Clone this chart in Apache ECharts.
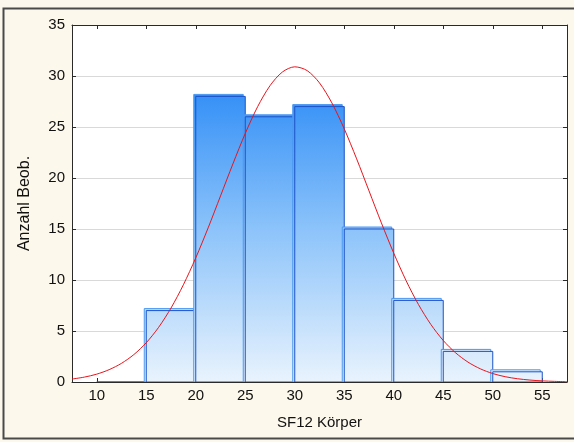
<!DOCTYPE html>
<html>
<head>
<meta charset="utf-8">
<script src="https://cdn.jsdelivr.net/npm/echarts@6/dist/echarts.min.js"></script>
<style>
  html, body { margin: 0; padding: 0; background: #fdf8ec; }
  #chart { width: 574px; height: 442px; }
</style>
</head>
<body>
<div id="chart"></div>
<script>
// Histogram bins: [lower edge, upper edge]
const binStarts = [10, 15, 20, 25, 30, 35, 40, 45, 50];
const binEnds   = [15, 20, 25, 30, 35, 40, 45, 50, 55];
// Number of observations per bin
const counts    = [0, 7, 28, 26, 27, 15, 8, 3, 1];

// Expected normal curve (x, expected count)
const curveX = [7.5, 8.75, 10, 11.25, 12.5, 13.75, 15, 16.25, 17.5, 18.75, 20, 21.25, 22.5, 23.75, 25, 26.25, 27.5, 28.75, 30,
                31.25, 32.5, 33.75, 35, 36.25, 37.5, 38.75, 40, 41.25, 42.5, 43.75, 45, 46.25, 47.5, 48.75, 50, 51.25, 52.5, 53.75, 55, 56.25, 57.5];
const curveY = [0.29, 0.48, 0.77, 1.21, 1.83, 2.69, 3.85, 5.36, 7.25, 9.53, 12.17, 15.11, 18.24, 21.38, 24.37, 26.99, 29.05, 30.39, 30.9,
                30.53, 29.32, 27.36, 24.82, 21.88, 18.74, 15.6, 12.63, 9.93, 7.59, 5.64, 4.07, 2.86, 1.95, 1.29, 0.83, 0.52, 0.32, 0.19, 0.11, 0.06, 0.03];

// Axis ticks
const xTicks = [10, 15, 20, 25, 30, 35, 40, 45, 50, 55];

const FONT = 'Liberation Sans, Arial, sans-serif';
const AXIS_COLOR = '#2a2a2a';

const binData = binStarts.map((s, i) => [s, binEnds[i], counts[i]]);
const curveData = curveX.map((x, i) => [x, curveY[i]]);

const chart = echarts.init(document.getElementById('chart'), null, { renderer: 'canvas' });

function makeFill(api) {
  const yTop = api.coord([0, 30])[1];
  const yBot = api.coord([0, 0])[1];
  return new echarts.graphic.LinearGradient(0, yTop, 0, yBot, [
    { offset: 0, color: '#2a8af6' },
    { offset: 0.5, color: '#8cc3fa' },
    { offset: 1, color: '#e9f3fd' }
  ], true);
}

function renderBin(params, api) {
  const x0 = api.value(0), x1 = api.value(1), n = api.value(2);
  const pTop = api.coord([x0, n]);
  const pBot = api.coord([x1, 0]);
  const w = pBot[0] - pTop[0];
  const h = pBot[1] - pTop[1];
  const fill = makeFill(api);
  const children = [];
  if (n > 0) {
    // lighter rim offset up and left
    children.push({
      type: 'rect',
      shape: { x: pTop[0] - 2, y: pTop[1] - 2, width: w, height: h + 2 },
      style: { fill: fill, stroke: '#4a98f2', lineWidth: 1 }
    });
  }
  children.push({
    type: 'rect',
    shape: { x: pTop[0], y: pTop[1], width: w, height: h },
    style: { fill: fill, stroke: '#1c52c6', lineWidth: 1 }
  });
  return { type: 'group', children: children };
}

const xAxisBase = {
  type: 'value',
  min: 7.5,
  max: 57.5,
  axisLine: { show: true, onZero: false, lineStyle: { color: AXIS_COLOR, width: 1 } },
  axisTick: { show: true, inside: true, length: 4, customValues: xTicks, lineStyle: { color: AXIS_COLOR } },
  splitLine: { show: false }
};

const yAxisBase = {
  type: 'value',
  min: 0,
  max: 35,
  interval: 5,
  axisLine: { show: true, lineStyle: { color: AXIS_COLOR, width: 1 } },
  axisTick: { show: true, inside: true, length: 4, lineStyle: { color: AXIS_COLOR } }
};

chart.setOption({
  backgroundColor: '#fdf8ec',
  animation: false,
  grid: {
    left: 72, right: 7, top: 25, bottom: 60,
    show: true, backgroundColor: '#ffffff', borderWidth: 0
  },
  graphic: [{
    type: 'rect',
    shape: { x: 3.5, y: 8.5, width: 600, height: 430 },
    style: { fill: null, stroke: '#4a4a4a', lineWidth: 2 },
    silent: true,
    z: -1
  }],
  xAxis: [
    Object.assign({}, xAxisBase, {
      position: 'bottom',
      name: 'SF12 Körper',
      nameLocation: 'middle',
      nameGap: 33,
      nameTextStyle: { fontFamily: FONT, fontSize: 15, color: '#111' },
      axisLabel: { show: true, customValues: xTicks, margin: 6, fontFamily: FONT, fontSize: 15, color: '#111' }
    }),
    Object.assign({}, xAxisBase, {
      position: 'top',
      axisLabel: { show: false }
    })
  ],
  yAxis: [
    Object.assign({}, yAxisBase, {
      position: 'left',
      name: 'Anzahl Beob.',
      nameLocation: 'middle',
      nameGap: 39,
      nameRotate: 90,
      nameTextStyle: { fontFamily: FONT, fontSize: 16, color: '#111' },
      axisLabel: { show: true, margin: 7, fontFamily: FONT, fontSize: 15, color: '#111' },
      splitLine: { show: true, lineStyle: { color: '#d9d9d9', width: 1 } }
    }),
    Object.assign({}, yAxisBase, {
      position: 'right',
      axisLabel: { show: false },
      splitLine: { show: false }
    })
  ],
  series: [
    {
      type: 'custom',
      xAxisIndex: 0,
      yAxisIndex: 0,
      renderItem: renderBin,
      data: binData,
      encode: { x: [0, 1], y: 2 },
      clip: true,
      z: 2
    },
    {
      type: 'line',
      xAxisIndex: 0,
      yAxisIndex: 0,
      data: curveData,
      smooth: 0.3,
      symbol: 'none',
      clip: true,
      lineStyle: { color: '#e8141c', width: 1 },
      z: 3
    }
  ]
});
</script>
</body>
</html>
